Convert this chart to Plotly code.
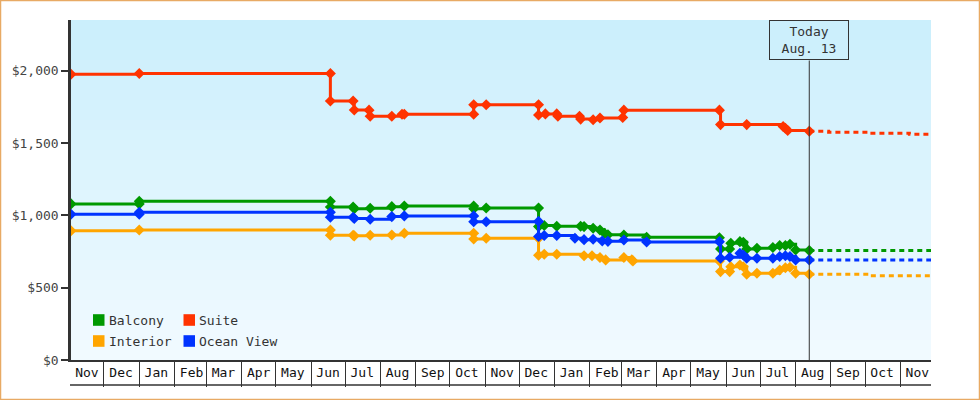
import plotly.graph_objects as go

# ---------------- data ----------------
suite_dates = ["2012-11-02", "2013-01-01", "2013-06-18", "2013-06-18", "2013-07-08", "2013-07-09",
               "2013-07-22", "2013-07-23", "2013-08-11", "2013-08-20", "2013-08-22", "2013-10-22",
               "2013-10-22", "2013-11-02", "2013-12-18", "2013-12-18", "2013-12-24", "2014-01-03",
               "2014-01-04", "2014-01-23", "2014-01-24", "2014-02-04", "2014-02-10", "2014-03-02",
               "2014-03-03", "2014-05-26", "2014-05-27", "2014-06-19", "2014-07-21", "2014-07-23",
               "2014-07-25", "2014-08-13"]
suite_prices = [1975, 1980, 1980, 1790, 1790, 1728,
                1727, 1685, 1685, 1699, 1699, 1699,
                1764, 1764, 1764, 1694, 1701, 1701,
                1685, 1685, 1665, 1660, 1672, 1676,
                1727, 1727, 1627, 1627, 1614, 1602,
                1586, 1581]
suite_proj_dates = ["2014-08-13", "2014-08-30", "2014-10-05", "2014-11-09", "2014-11-28"]
suite_proj_prices = [1581, 1575, 1568, 1561, 1561]

balcony_dates = ["2012-11-02", "2013-01-01", "2013-01-01", "2013-06-18", "2013-06-18", "2013-07-08",
                 "2013-07-09", "2013-07-23", "2013-08-11", "2013-08-22", "2013-10-22", "2013-10-22",
                 "2013-11-02", "2013-12-18", "2013-12-18", "2013-12-23", "2014-01-03", "2014-01-24",
                 "2014-01-27", "2014-02-04", "2014-02-10", "2014-02-14", "2014-02-17", "2014-03-03",
                 "2014-03-23", "2014-05-26", "2014-05-27", "2014-06-04", "2014-06-05", "2014-06-13",
                 "2014-06-16", "2014-06-19", "2014-06-28", "2014-07-12", "2014-07-18", "2014-07-23",
                 "2014-07-27", "2014-08-01", "2014-08-13"]
balcony_prices = [1079, 1079, 1097, 1097, 1058, 1058,
                  1046, 1049, 1060, 1065, 1065, 1045,
                  1050, 1050, 922, 930, 925, 925,
                  922, 911, 899, 876, 866, 864,
                  849, 845, 768, 768, 807, 818,
                  814, 768, 773, 777, 791, 791,
                  800, 761, 756]
balcony_proj_dates = ["2014-08-13", "2014-11-28"]
balcony_proj_prices = [756, 756]

ocean_dates = ["2012-11-02", "2013-01-01", "2013-01-01", "2013-06-18", "2013-06-18", "2013-07-08",
               "2013-07-09", "2013-07-23", "2013-08-11", "2013-08-22", "2013-10-22", "2013-10-22",
               "2013-11-02", "2013-12-18", "2013-12-18", "2013-12-23", "2014-01-03", "2014-01-19",
               "2014-01-27", "2014-02-04", "2014-02-12", "2014-02-17", "2014-03-03", "2014-03-23",
               "2014-05-26", "2014-05-27", "2014-06-04", "2014-06-13", "2014-06-16", "2014-06-19",
               "2014-06-28", "2014-07-12", "2014-07-18", "2014-07-23", "2014-07-27", "2014-08-01",
               "2014-08-13"]
ocean_prices = [1008, 1008, 1021, 1021, 987, 987,
                978, 973, 991, 996, 996, 956,
                956, 958, 853, 860, 860, 841,
                832, 835, 823, 820, 830, 815,
                818, 703, 710, 738, 726, 703,
                703, 703, 715, 721, 715, 692,
                692]
ocean_proj_dates = ["2014-08-13", "2014-11-28"]
ocean_proj_prices = [692, 692]

interior_dates = ["2012-11-02", "2013-01-01", "2013-06-18", "2013-06-18", "2013-07-08", "2013-07-09",
                  "2013-07-23", "2013-08-11", "2013-08-22", "2013-10-22", "2013-10-22", "2013-11-02",
                  "2013-12-18", "2013-12-18", "2013-12-23", "2014-01-03", "2014-01-27", "2014-02-03",
                  "2014-02-10", "2014-02-15", "2014-03-03", "2014-03-10", "2014-03-11", "2014-05-26",
                  "2014-05-27", "2014-06-04", "2014-06-05", "2014-06-13", "2014-06-16", "2014-06-19",
                  "2014-06-28", "2014-07-12", "2014-07-18", "2014-07-23", "2014-07-27", "2014-08-01",
                  "2014-08-13"]
interior_prices = [894, 899, 899, 862, 862, 858,
                   862, 864, 876, 876, 836, 841,
                   841, 724, 731, 731, 721, 721,
                   708, 692, 708, 692, 685, 685,
                   611, 611, 645, 657, 645, 593,
                   600, 600, 622, 638, 641, 600,
                   593]
interior_proj_dates = ["2014-08-13", "2014-10-05", "2014-11-28"]
interior_proj_prices = [593, 583, 583]

month_label_dates = ["2012-11-16", "2012-12-16", "2013-01-16", "2013-02-16", "2013-03-16", "2013-04-16",
                     "2013-05-16", "2013-06-16", "2013-07-16", "2013-08-16", "2013-09-16", "2013-10-16",
                     "2013-11-16", "2013-12-16", "2014-01-16", "2014-02-16", "2014-03-16", "2014-04-16",
                     "2014-05-16", "2014-06-16", "2014-07-16", "2014-08-16", "2014-09-16", "2014-10-16",
                     "2014-11-16"]
month_labels = ["Nov", "Dec", "Jan", "Feb", "Mar", "Apr", "May", "Jun", "Jul", "Aug", "Sep", "Oct",
                "Nov", "Dec", "Jan", "Feb", "Mar", "Apr", "May", "Jun", "Jul", "Aug", "Sep", "Oct", "Nov"]
y_ticks = [0, 500, 1000, 1500, 2000]
x_range = ["2012-11-02", "2014-11-28"]
today_date = "2014-08-13"
today_text = "Today<br>Aug. 13"

series = [
    ("Balcony", "#009900", balcony_dates, balcony_prices, balcony_proj_dates, balcony_proj_prices),
    ("Interior", "#ffa500", interior_dates, interior_prices, interior_proj_dates, interior_proj_prices),
    ("Ocean View", "#0033ff", ocean_dates, ocean_prices, ocean_proj_dates, ocean_proj_prices),
    ("Suite", "#ff3300", suite_dates, suite_prices, suite_proj_dates, suite_proj_prices),
]

# ---------------- layout geometry ----------------
W, H = 980, 400
L, R, T, B = 71, 49, 20, 40
PW, PH = W - L - R, H - T - B
FONT = "DejaVu Sans Mono"


def px(x):
    return (x - L) / PW


def py(y):
    return (H - B - y) / PH


fig = go.Figure()

for name, color, d, p, pd_, pp in series:
    fig.add_trace(go.Scatter(x=pd_, y=pp, mode="lines", line=dict(color=color, width=3, dash="5px,4px", shape="hv"),
                             showlegend=False, hoverinfo="skip"))
for name, color, d, p, pd_, pp in series:
    fig.add_trace(go.Scatter(x=d, y=p, mode="lines+markers", name=name,
                             line=dict(color=color, width=3, shape="hv"),
                             marker=dict(symbol="diamond", size=8.5, color=color, line=dict(width=0)),
                             showlegend=False))

shapes = []
# gradient background
top = (203, 239, 252)
bot = (241, 250, 255)
n = 34
for i in range(n):
    t = i / (n - 1)
    c = tuple(round(top[k] + (bot[k] - top[k]) * t) for k in range(3))
    shapes.append(dict(type="rect", xref="paper", yref="paper", x0=0, x1=1,
                       y0=1 - (i + 1) / n, y1=1 - i / n, fillcolor="rgb(%d,%d,%d)" % c,
                       line=dict(width=0), layer="below"))
# bottom line of month row
shapes.append(dict(type="line", xref="paper", yref="paper", x0=px(70), x1=1, y0=py(385), y1=py(385),
                   line=dict(color="#333", width=1.5)))
# today line
shapes.append(dict(type="line", xref="x", yref="paper", x0=today_date, x1=today_date, y0=0, y1=py(60.5),
                   line=dict(color="#333", width=1)))
# outer frame
shapes.append(dict(type="rect", xref="paper", yref="paper", x0=px(0.5), x1=px(979.5), y0=py(399.5), y1=py(0.5),
                   line=dict(color="#e8aa64", width=1.5), fillcolor="rgba(0,0,0,0)"))

annotations = [dict(x=today_date, y=1, xref="x", yref="paper", yanchor="top", xanchor="center",
                    text=today_text, showarrow=False, font=dict(family=FONT, size=13, color="#333"),
                    bordercolor="#333", borderwidth=1, borderpad=0, width=78, height=38, align="center")]

# legend (manual, 2 columns)
legend_pos = [("Balcony", "#009900", 93, 320), ("Suite", "#ff3300", 183.5, 320),
              ("Interior", "#ffa500", 93, 341), ("Ocean View", "#0033ff", 183.5, 341)]
for name, color, lx, ly in legend_pos:
    shapes.append(dict(type="rect", xref="paper", yref="paper", x0=px(lx), x1=px(lx + 11.5),
                       y0=py(ly + 5.8), y1=py(ly - 5.8), fillcolor=color, line=dict(width=0)))
    annotations.append(dict(x=px(lx + 13.5), y=py(ly), xref="paper", yref="paper", xanchor="left",
                            yanchor="middle", text=name, showarrow=False,
                            font=dict(family=FONT, size=13, color="#333")))

fig.update_layout(
    width=W, height=H, margin=dict(l=L, r=R, t=T, b=B),
    paper_bgcolor="white", plot_bgcolor="rgb(220,244,253)",
    font=dict(family=FONT, size=13, color="#333"),
    shapes=shapes, annotations=annotations, showlegend=False,
    xaxis=dict(type="date", range=x_range, tickmode="array", tickvals=month_label_dates, ticktext=month_labels,
               ticks="", showgrid=False, zeroline=False, showline=True, linecolor="#333", linewidth=1.5,
               tickfont=dict(family=FONT, size=13, color="#111"), ticklabelstandoff=0,
               minor=dict(dtick="M1", tick0="2012-12-01", ticks="outside", ticklen=25, tickcolor="#333",
                          tickwidth=1, showgrid=False)),
    yaxis=dict(range=[0, 2350], tickmode="array", tickvals=y_ticks, tickformat="$,.0f", ticks="outside",
               ticklen=7, tickwidth=2, tickcolor="#333", showgrid=False, zeroline=False, showline=True,
               linecolor="#333", linewidth=2.5, tickfont=dict(family=FONT, size=13, color="#444")),
)

fig.write_html("out.html", config={"displayModeBar": False})

# remove the default page margin so the figure sits at the window origin
with open("out.html", encoding="utf-8") as f:
    html = f.read()
html = html.replace("<head>", "<head><style>html,body{margin:0;padding:0;overflow:hidden;}</style>", 1)
with open("out.html", "w", encoding="utf-8") as f:
    f.write(html)
